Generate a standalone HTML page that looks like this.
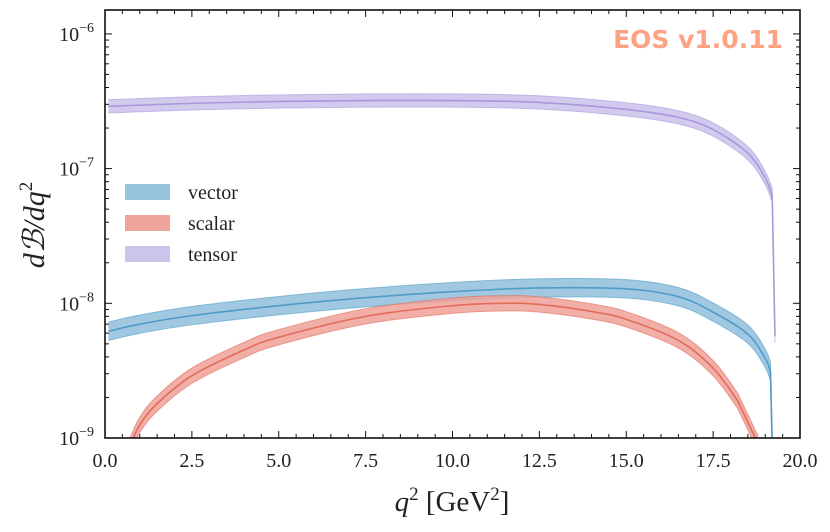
<!DOCTYPE html>
<html><head><meta charset="utf-8"><style>
body{margin:0;background:#fff;}
svg text{font-family:"Liberation Serif",serif;fill:#222;}
</style></head><body>
<svg id="chart" width="830" height="527" xmlns="http://www.w3.org/2000/svg"></svg>
<script>
const vectorQ=[0.1,1,2.5,5,7.5,10,12.5,15,16.5,17.5,18.5,19,19.15,19.2];
const vectorV=[6.2e-9,7.0e-9,8.1e-9,9.6e-9,1.1e-8,1.22e-8,1.3e-8,1.28e-8,1.12e-8,8.6e-9,5.9e-9,3.9e-9,3.1e-9,9e-10];
const scalarQ=[0.7,1,1.5,2.5,4,5,7.5,10,11.5,12.5,14,15,16.5,17.5,18.2,18.8];
const scalarV=[8.5e-10,1.25e-9,1.8e-9,2.9e-9,4.5e-9,5.6e-9,8.0e-9,9.6e-9,1.0e-8,9.8e-9,8.7e-9,7.6e-9,5.3e-9,3.3e-9,1.9e-9,9e-10];
const tensorQ=[0.1,2.5,5,7.5,10,12.5,15,16.5,17.5,18.5,19,19.2,19.28];
const tensorV=[2.9e-7,3.05e-7,3.15e-7,3.2e-7,3.2e-7,3.1e-7,2.75e-7,2.4e-7,1.95e-7,1.3e-7,8.5e-8,6.3e-8,5.7e-9];
const xTicks=["0.0","2.5","5.0","7.5","10.0","12.5","15.0","17.5","20.0"];
const yTickExps=[-6,-7,-8,-9];

const L=105,R=800,T=10,B=438;
const xs=q=>L+q*(R-L)/20;
const ys=v=>438-(Math.log10(v)+9)*134.7;
const svg=document.getElementById('chart');
const NS='http://www.w3.org/2000/svg';
function mk(tag,attrs,parent){const e=document.createElementNS(NS,tag);for(const k in attrs)e.setAttribute(k,attrs[k]);(parent||svg).appendChild(e);return e;}

const cp=mk('clipPath',{id:'clip'});
mk('rect',{x:L,y:T,width:R-L,height:B-T},cp);

function smoothSeg(pts){
  let d='';
  for(let i=0;i<pts.length-1;i++){
    const p0=pts[Math.max(0,i-1)],p1=pts[i],p2=pts[i+1],p3=pts[Math.min(pts.length-1,i+2)];
    const t=1/6;
    d+=' C'+(p1[0]+(p2[0]-p0[0])*t)+','+(p1[1]+(p2[1]-p0[1])*t)+' '+(p2[0]-(p3[0]-p1[0])*t)+','+(p2[1]-(p3[1]-p1[1])*t)+' '+p2[0]+','+p2[1];
  }
  return d;
}
// smooth body, straight final drop segment (at the end which is the "drop" end)
function pathFwd(pts){const body=pts.slice(0,-1),last=pts[pts.length-1];
  return 'M'+body[0][0]+','+body[0][1]+smoothSeg(body)+' L'+last[0]+','+last[1];}
function pathRev(pts){const last=pts[pts.length-1],body=pts.slice(0,-1).reverse();
  return 'M'+last[0]+','+last[1]+' L'+body[0][0]+','+body[0][1]+smoothSeg(body);}
function band(qs,vs,w,fill,stroke,name){
  const g=mk('g',{'clip-path':'url(#clip)'});
  
  
  const up=qs.map((q,i)=>[xs(q),ys(vs[i]*(1+w))]);
  const lo=qs.map((q,i)=>[xs(q),ys(vs[i]/(1+w))]);
  const dUp=pathFwd(up),dLo=pathRev(lo);
  const p=mk('path',{d:dUp+' L'+dLo.slice(1)+' Z',fill:fill,'fill-opacity':0.85},g);
  
  
  mk('path',{d:dUp,fill:'none',stroke:stroke,'stroke-width':1,'stroke-opacity':0.6},g);
  mk('path',{d:dLo,fill:'none',stroke:stroke,'stroke-width':1,'stroke-opacity':0.6},g);
  const c=mk('path',{d:pathFwd(qs.map((q,i)=>[xs(q),ys(vs[i])])),fill:'none',stroke:stroke,'stroke-width':1.6},g);
  
  
}
band(tensorQ,tensorV,0.12,'#cbc2ea','#a898dc','tensor');
band(vectorQ,vectorV,0.17,'#8fc0dc','#4f9bc8','vector');
band(scalarQ,scalarV,0.14,'#eea198','#e26b5e','scalar');

const fr=mk('rect',{x:L,y:T,width:R-L,height:B-T,fill:'none',stroke:'#111','stroke-width':1.6});


for(let i=0;i<=40;i++){const q=i*0.5,x=xs(q),maj=(i%5===0);const len=maj?7:4;
  mk('line',{x1:x,y1:B,x2:x,y2:B-len,stroke:'#111','stroke-width':1});
  mk('line',{x1:x,y1:T,x2:x,y2:T+len,stroke:'#111','stroke-width':1});}
xTicks.forEach((t,i)=>{const e=mk('text',{x:xs(i*2.5),y:467,'font-size':20,'text-anchor':'middle'});e.textContent=t;
  
  });
for(let d=-9;d<=-6;d++){for(let m=1;m<10;m++){const v=m*Math.pow(10,d),y=ys(v);if(y<T||y>B)continue;const len=m===1?7:4;
  mk('line',{x1:L,y1:y,x2:L+len,y2:y,stroke:'#111','stroke-width':1});
  mk('line',{x1:R,y1:y,x2:R-len,y2:y,stroke:'#111','stroke-width':1});}}
yTickExps.forEach(e=>{const t=mk('text',{x:94,y:ys(Math.pow(10,e))+7,'font-size':20,'text-anchor':'end'});
  t.innerHTML='10<tspan dy="-9" font-size="14">−'+(-e)+'</tspan>';
  
  });
const xt=mk('text',{x:452,y:511,'font-size':29,'text-anchor':'middle'});
xt.innerHTML='<tspan font-style="italic">q</tspan><tspan dy="-11" font-size="19">2</tspan><tspan dy="11"> [GeV</tspan><tspan dy="-11" font-size="19">2</tspan><tspan dy="11">]</tspan>';


const yt=mk('text',{transform:'translate(44,225) rotate(-90)','font-size':30,'text-anchor':'middle','font-style':'italic'});
yt.innerHTML='dℬ/dq<tspan dy="-12" font-size="19" font-style="normal">2</tspan>';


[['vector','#97c4de'],['scalar','#f0a59c'],['tensor','#cdc4ec']].forEach((l,i)=>{
  const g=mk('g',{});
  
  
  mk('rect',{x:125,y:184+i*31,width:45,height:16,fill:l[1]},g);
  const t=mk('text',{x:188,y:199+i*31,'font-size':20},g);t.textContent=l[0];});
const w=mk('text',{x:783,y:48,'font-size':25,'font-weight':'bold','text-anchor':'end'});
w.setAttribute('style','fill:#ffa283;font-family:"DejaVu Sans",sans-serif');
w.textContent='EOS v1.0.11';


</script>
</body></html>
